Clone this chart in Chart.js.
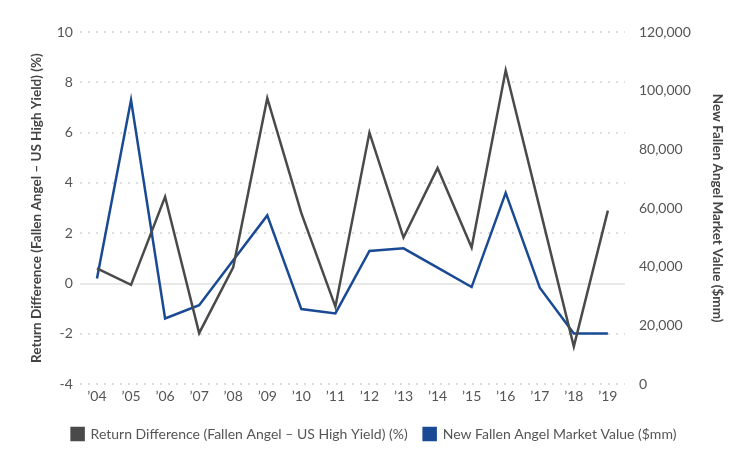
<!DOCTYPE html>
<html>
<head>
<meta charset="utf-8">
<script src="https://cdn.jsdelivr.net/npm/chart.js@4"></script>
<style>
  html, body { margin: 0; padding: 0; background: #fff; }
  #wrap { width: 748px; height: 468px; }
</style>
</head>
<body>
<div id="wrap"><canvas id="chart"></canvas></div>
<script>
// categories (years)
const years = ['’04', '’05', '’06', '’07', '’08', '’09', '’10', '’11', '’12', '’13', '’14', '’15', '’16', '’17', '’18', '’19'];

// return difference, fallen angel minus US high yield (%)
const returnDiff = [0.6, -0.05, 3.45, -1.97, 0.65, 7.37, 2.8, -0.92, 6.0, 1.83, 4.59, 1.43, 8.48, 3.0, -2.5, 2.9];

// new fallen angel market value ($mm)
const marketValue = [36000, 96800, 22400, 26900, 42200, 57500, 25600, 24100, 45400, 46300, 39700, 33100, 65200, 32900, 17300, 17300];

const gray = '#4a4a4a';
const blue = '#1a4a94';
const tickColor = '#555555';
const fontFamily = 'Lato, "Noto Sans", sans-serif';

const ctx = document.getElementById('chart').getContext('2d');

new Chart(ctx, {
    type: 'line',
    data: {
        labels: years,
        datasets: [
            {
                label: 'Return Difference (Fallen Angel – US High Yield) (%)',
                data: returnDiff,
                borderColor: gray,
                backgroundColor: gray,
                borderWidth: 2.5,
                pointRadius: 0,
                tension: 0,
                yAxisID: 'y'
            },
            {
                label: 'New Fallen Angel Market Value ($mm)',
                data: marketValue,
                borderColor: blue,
                backgroundColor: blue,
                borderWidth: 2.5,
                pointRadius: 0,
                tension: 0,
                yAxisID: 'y1'
            }
        ]
    },
    options: {
        responsive: true,
        maintainAspectRatio: false,
        animation: false,
        layout: {
            padding: { top: 32, right: 10, bottom: 17, left: 10 }
        },
        plugins: {
            legend: {
                position: 'bottom',
                labels: {
                    boxWidth: 12,
                    boxHeight: 12,
                    padding: 16,
                    color: tickColor,
                    font: { family: fontFamily, size: 14 }
                }
            },
            tooltip: { enabled: false }
        },
        scales: {
            x: {
                offset: true,
                grid: { display: false, drawTicks: false },
                border: { display: false },
                ticks: {
                    color: tickColor,
                    padding: 4,
                    font: { family: fontFamily, size: 14 }
                },
                // a little extra room between the year labels and the legend
                afterFit: function (scale) { scale.height += 2; }
            },
            y: {
                position: 'left',
                min: -4,
                max: 10,
                ticks: {
                    stepSize: 2,
                    color: tickColor,
                    padding: 7,
                    font: { family: fontFamily, size: 14 }
                },
                grid: {
                    drawTicks: false,
                    lineWidth: 2,
                    color: function (c) {
                        return c.tick && c.tick.value === 0 ? '#e8e8e8' : '#dddddd';
                    }
                },
                border: {
                    display: false,
                    dash: function (c) {
                        return c.tick && c.tick.value === 0 ? [] : [2, 6];
                    }
                },
                title: {
                    display: true,
                    text: 'Return Difference (Fallen Angel – US High Yield) (%)',
                    color: '#444444',
                    font: { family: fontFamily, size: 13.5, weight: 'bold' },
                    padding: { top: 19, bottom: 4.5 }
                }
            },
            y1: {
                position: 'right',
                min: 0,
                max: 120000,
                grid: { display: false, drawTicks: false },
                border: { display: false },
                ticks: {
                    stepSize: 20000,
                    color: tickColor,
                    padding: 14,
                    font: { family: fontFamily, size: 14 },
                    callback: function (v) { return v.toLocaleString('en-US'); }
                },
                title: {
                    display: true,
                    text: 'New Fallen Angel Market Value ($mm)',
                    color: '#444444',
                    font: { family: fontFamily, size: 13.5, weight: 'bold' },
                    padding: { top: 13, bottom: 4 }
                }
            }
        }
    }
});
</script>
</body>
</html>
